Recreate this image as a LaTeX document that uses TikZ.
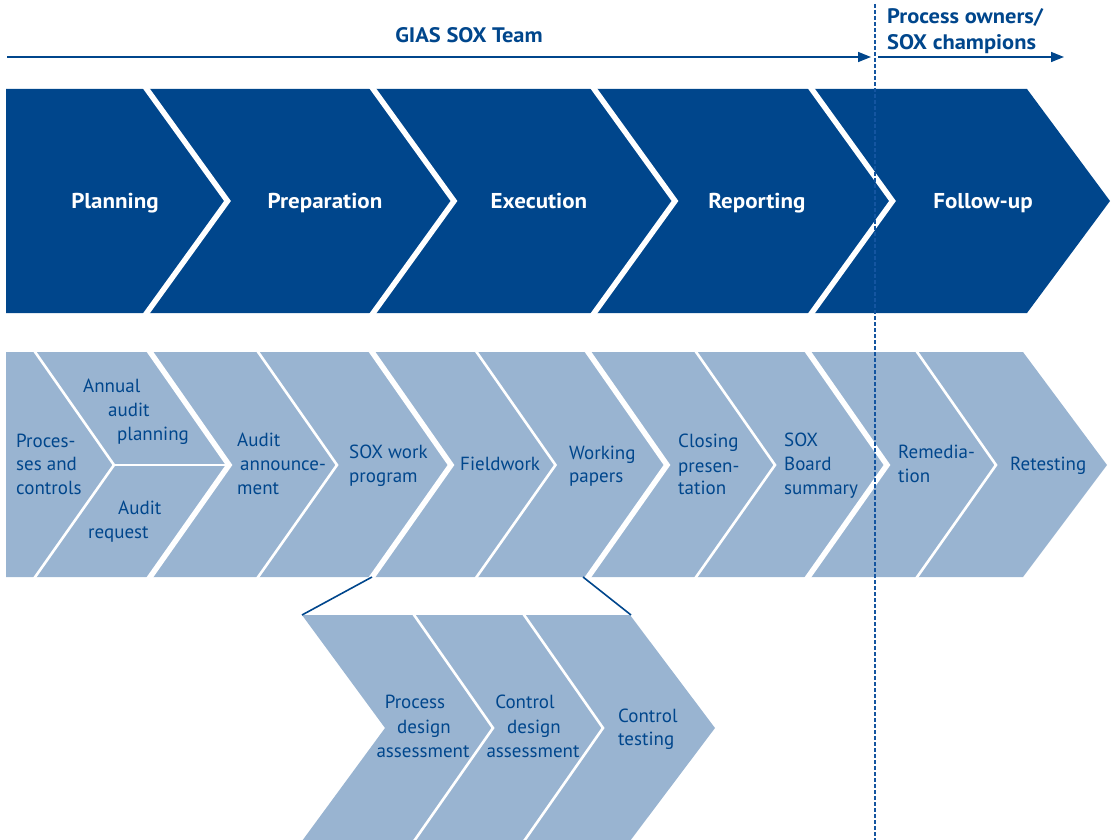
\documentclass[tikz,border=0pt]{standalone}
\usepackage{fontspec}
\setmainfont{PT Sans}
\newfontfamily\wbold{PT Sans}[FakeStretch=1.07]
\usetikzlibrary{arrows.meta}
\definecolor{dkblue}{RGB}{0,70,140}
\definecolor{ltblue}{RGB}{153,180,209}
\definecolor{dotblue}{RGB}{20,85,160}
\begin{document}
\begin{tikzpicture}[x=1pt,y=-1pt,
  septhick/.style={white, line width=5.5pt},
  septhin/.style={white, line width=2.6pt},
  phase/.style={font=\wbold\fontsize{21.5}{26}\selectfont\bfseries, text=white, inner sep=0pt, anchor=base},
  lab/.style={font=\fontsize{19}{24}\selectfont, text=dkblue, inner sep=0pt, anchor=base west},
  clab/.style={lab, anchor=base},
  team/.style={font=\wbold\fontsize{21}{26}\selectfont\bfseries, text=dkblue, inner sep=0pt},
  conn/.style={dkblue, line width=1.6pt},
  spanarrow/.style={dkblue, line width=1.5pt, -{Triangle[length=13pt,width=10pt]}}]
\useasboundingbox (0,0) rectangle (1112,840);
\clip (0,0) rectangle (1112,840);

% ---------- row 1 : phases ----------
\fill[dkblue] (6,89) -- (1027,89) -- (1110,201) -- (1027,313) -- (6,313) -- cycle;
\foreach \s in {146.5,373,594,811.5}
  \draw[septhick] (\s-2,86) -- (\s+81,201) -- (\s-2,316);
\node[phase] (p1) at (115,208) {Planning};
\node[phase] (p2) at (325,208) {Preparation};
\node[phase] (p3) at (539,208) {Execution};
\node[phase] (p4) at (757,208) {Reporting};
\node[phase] (p5) at (983,208) {Follow-up};

% ---------- row 2 : steps ----------
\fill[ltblue] (6,352) -- (1023,352) -- (1107,465) -- (1023,577) -- (6,577) -- cycle;
\foreach \s in {150,372,588,808}
  \draw[septhick] (\s-2,349) -- (\s+79,465) -- (\s-2,580);
\foreach \s in {35,258,476.5,696,917}
  \draw[septhin] (\s-2,349) -- (\s+79,465) -- (\s-2,580);
\draw[septhin] (114,465) -- (229,465);

\node[lab] (s1a) at (16,447) {Proces-};
\node[lab] (s1b) at (16,470) {ses and};
\node[lab] (s1c) at (16,494) {controls};
\node[lab] (s2a) at (83,392) {Annual};
\node[lab] (s2b) at (108,416) {audit};
\node[lab] (s2c) at (117,440) {planning};
\node[lab] (s3a) at (118,514) {Audit};
\node[lab] (s3b) at (88,538) {request};
\node[lab] (s4a) at (237,446) {Audit};
\node[lab] (s4b) at (240,470) {announce-};
\node[lab] (s4c) at (237,494) {ment};
\node[lab] (s5a) at (349,458) {SOX work};
\node[lab] (s5b) at (349,482) {program};
\node[lab] (s6a) at (460,470) {Fieldwork};
\node[lab] (s7a) at (569,459) {Working};
\node[lab] (s7b) at (569,482) {papers};
\node[lab] (s8a) at (678,447) {Closing};
\node[lab] (s8b) at (678,472) {presen-};
\node[lab] (s8c) at (678,494) {tation};
\node[lab] (s9a) at (784,446) {SOX};
\node[lab] (s9b) at (784,470) {Board};
\node[lab] (s9c) at (784,494) {summary};
\node[lab] (s10a) at (898,458) {Remedia-};
\node[lab] (s10b) at (898,482) {tion};
\node[lab] (s11a) at (1010,470) {Retesting};

% ---------- row 3 : fieldwork detail ----------
\fill[ltblue] (302,615) -- (630,615) -- (715,728) -- (630,841) -- (302,841) -- (385,728) -- cycle;
\foreach \s in {414,524}
  \draw[septhin] (\s-2,612) -- (\s+79,728) -- (\s-2,844);
\node[clab] (d1a) at (415,708) {Process};
\node[clab] (d1b) at (424,733) {design};
\node[clab] (d1c) at (423,757) {assessment};
\node[clab] (d2a) at (525,708) {Control};
\node[clab] (d2b) at (534,733) {design};
\node[clab] (d2c) at (533,757) {assessment};
\node[lab] (d3a) at (618,722) {Control};
\node[lab] (d3b) at (618,745) {testing};

% connectors between row 2 and row 3
\coordinate (fwl) at (372,577);
\coordinate (fwr) at (583,577);
\coordinate (dtl) at (302,615);
\coordinate (dtr) at (631,615);
\draw[conn] (fwl) -- (dtl);
\draw[conn] (fwr) -- (dtr);

% ---------- top: responsibility arrows ----------
\coordinate (a1s) at (7,57);
\coordinate (a1e) at (871,57);
\coordinate (a2s) at (878,57);
\coordinate (a2e) at (1064,57);
\draw[spanarrow] (a1s) -- (a1e);
\draw[spanarrow] (a2s) -- (a2e);
\node[team, anchor=base] (gias) at (469,43) {GIAS SOX Team};
\node[team, anchor=base west] (po1) at (887,24) {Process owners/};
\node[team, anchor=base west] (po2) at (887,50) {SOX champions};

% dotted divider
\coordinate (dvt) at (875,4);
\coordinate (dvb) at (875,840);
\draw[dotblue, line width=1.8pt, dash pattern=on 3.6pt off 2.4pt] (dvt) -- (dvb);
\end{tikzpicture}
\end{document}
